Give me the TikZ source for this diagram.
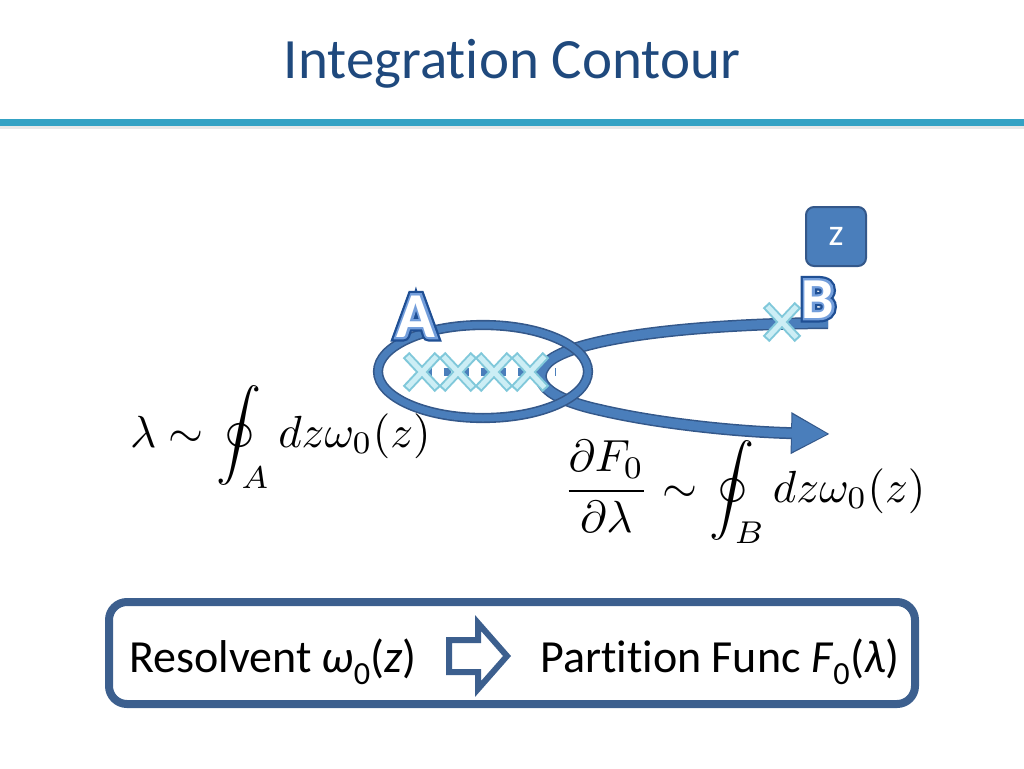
\documentclass[tikz,border=0pt]{standalone}
\usepackage{amsfonts, amsmath, amssymb}
\usepackage{graphicx}
\usepackage[no-math]{fontspec}
\setmainfont{Carlito}[Ligatures={NoCommon}]
\usepackage{tikz}
\usetikzlibrary{arrows.meta}

\definecolor{titleblue}{RGB}{31,73,125}
\definecolor{barblue}{RGB}{52,162,196}
\definecolor{boxblue}{RGB}{60,95,142}
\definecolor{loopblue}{RGB}{74,126,187}
\definecolor{edgeblue}{RGB}{52,88,138}
\definecolor{crossout}{RGB}{128,200,218}
\definecolor{crossin}{RGB}{204,238,245}

% stroked letters: #1 = stroke width, #2 = stroke colour (pdf rgb), #3 = text
\newcommand{\stroked}[3]{\special{pdf:literal direct 2 Tr #1 w #2 RG}#3\special{pdf:literal direct 0 Tr 1 w}}

\tikzset{
  brpoint/.pic={
    \draw[crossedge] (-16,-17) -- (16,17) (-16,17) -- (16,-17);
    \draw[crossfill] (-14.5,-15.5) -- (14.5,15.5) (-14.5,15.5) -- (14.5,-15.5);
  }
}

\begin{document}
\begin{tikzpicture}[x=1pt,y=-1pt,
    crossedge/.style={line width=9, draw=crossout, line cap=butt},
    crossfill/.style={line width=5, draw=crossin, line cap=butt},
    bigletter/.style={inner sep=0, anchor=base, font=\fontsize{#1}{#1}\bfseries\selectfont},
    plaintext/.style={inner sep=0, anchor=base west, font=\fontsize{46}{50}\selectfont}]
  \useasboundingbox (0,0) rectangle (1024,768);

  % Title and bar
  \node[inner sep=0, anchor=base, text=titleblue, font=\fontsize{57}{62}\selectfont] (title) at (512,78) {Integration Contour};
  \fill[barblue] (0,119) rectangle (1024,126);
  \draw[black!9, line width=3] (0,127.5) -- (1024,127.5);

  % z label
  \node[draw=edgeblue, fill=loopblue, line width=2, rounded corners=8, minimum width=60, minimum height=59,
        text=white, font=\fontsize{38}{38}\selectfont] (zlabel) at (836,236.5) {z};

  % contour B with arrow
  \draw[edgeblue, line width=12, -{Triangle[length=39pt,width=39pt]}]
    (828,323) .. controls (690,324) and (575,338) .. (548,362)
    .. controls (530,380) and (545,398) .. (600,410)
    .. controls (660,424) and (740,432) .. (830,434);
  \draw[loopblue, line width=9, -{Triangle[length=36pt,width=35pt]}]
    (828,323) .. controls (690,324) and (575,338) .. (548,362)
    .. controls (530,380) and (545,398) .. (600,410)
    .. controls (660,424) and (740,432) .. (828,434);

  % contour A
  \draw[edgeblue, line width=1.6, double=loopblue, double distance=7] (483,371.5) ellipse [x radius=105, y radius=46.5];

  % cut and branch points
  \draw[loopblue, line width=8, dash pattern=on 7 off 11.6] (425,372) -- (556,372);
  \foreach \xc in {422,458,494,530}
    \pic at (\xc,372) {brpoint};
  \pic at (782,322) {brpoint};

  % letters A and B (dark edge, light rim, white face)
  \node[bigletter=64, text=white] at (416,337) {\stroked{9}{0.12 0.31 0.58}{A}};
  \node[bigletter=64, text=white] at (416,337) {\stroked{4.5}{0.45 0.62 0.86}{A}};
  \node[bigletter=64, text=white] (letterA) at (416,337) {A};
  \node[bigletter=58, text=white] at (818,318) {\stroked{9}{0.12 0.31 0.58}{B}};
  \node[bigletter=58, text=white] at (818,318) {\stroked{4.5}{0.45 0.62 0.86}{B}};
  \node[bigletter=58, text=white] (letterB) at (818,318) {B};

  % formulas
  \node[inner sep=0, anchor=base west] (lamform) at (130,447)
    {\scalebox{4.5}{$\displaystyle \lambda \sim \oint_A dz\omega_0(z)$}};
  \node[inner sep=0, anchor=base west] (dform) at (563,502)
    {\scalebox{4.5}{$\displaystyle \frac{\partial F_0}{\partial\lambda} \sim \oint_B dz\omega_0(z)$}};

  % bottom box
  \draw[boxblue, line width=8, rounded corners=18] (109,602) rectangle (915,704);
  \node[plaintext] (resolvent) at (129,672) {Resolvent \textit{ω}\textsubscript{0}(\textit{z})};
  \draw[boxblue, line width=6, fill=white, line join=miter]
    (449,640) -- (478,640) -- (478,623) -- (507,656) -- (478,689) -- (478,672) -- (449,672) -- cycle;
  \node[plaintext] (partfunc) at (540,672) {Partition Func \textit{F}\textsubscript{0}(\textit{λ})};
\end{tikzpicture}
\end{document}
